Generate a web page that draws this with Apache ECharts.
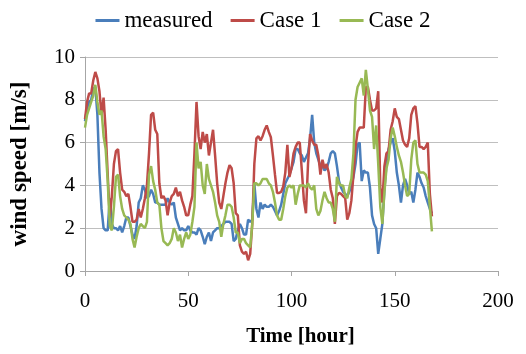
<!DOCTYPE html>
<html><head><meta charset="utf-8">
<script src="https://cdn.jsdelivr.net/npm/echarts@6/dist/echarts.min.js"></script>
<style>html,body{margin:0;padding:0;background:#fff}#c{width:526px;height:354px}</style>
</head><body><div id="c"></div>
<script>
const seriesNames = ['measured', 'Case 1', 'Case 2'];
const xTicks = [0, 50, 100, 150, 200];
const yTicks = [0, 2, 4, 6, 8, 10];
// hourly values, hour 0..168
const measured = [7.0,7.6,7.9,8.0,8.5,8.6,7.3,4.6,2.9,2.0,1.9,1.9,3.4,2.2,2.0,2.0,1.9,2.1,1.8,2.1,
2.5,2.5,2.1,1.7,1.5,2.1,3.2,3.4,4.0,3.8,3.4,3.5,3.8,3.6,3.2,3.2,3.1,3.1,3.1,3.1,
3.4,3.2,3.1,3.2,2.5,2.2,1.9,2.0,1.9,1.9,2.1,1.9,1.8,1.8,1.7,2.0,1.9,1.6,1.25,1.6,
1.8,1.4,1.8,1.9,2.0,2.0,2.1,2.2,2.3,2.3,2.3,2.2,1.4,1.5,1.9,2.2,2.0,1.7,1.7,2.4,
2.3,2.4,4.1,2.9,2.5,3.2,2.9,3.1,3.0,3.0,3.1,3.0,2.8,2.6,2.8,3.1,3.6,4.1,4.3,4.5,
4.8,5.1,5.7,5.7,5.5,5.4,5.1,5.3,5.5,6.2,7.3,6.0,5.5,5.2,4.9,4.9,4.7,4.8,5.1,5.5,
5.6,5.5,4.9,4.2,3.9,3.7,3.6,3.5,3.7,4.0,4.4,5.0,5.9,6.0,4.2,4.7,4.6,4.6,3.9,2.6,
2.2,2.0,0.8,1.5,2.2,3.8,5.0,5.7,6.0,6.2,5.6,4.6,4.0,3.2,4.0,4.3,4.0,3.6,3.7,3.2,
3.8,4.6,4.4,4.1,3.9,3.5,3.2,2.9,2.7];
const case1 = [7.1,7.9,8.3,8.3,8.9,9.3,9.0,8.4,7.3,8.1,6.6,4.5,2.5,3.5,5.0,5.6,5.7,4.6,3.8,3.7,
3.5,3.6,3.0,2.3,2.3,2.4,2.9,2.5,2.9,3.4,4.0,5.5,7.3,7.4,6.6,6.4,4.1,3.4,3.5,3.3,
2.6,3.2,3.5,3.6,3.9,3.5,3.7,3.3,3.0,2.6,2.6,3.1,3.5,5.5,7.9,6.3,5.7,6.5,6.0,6.4,
5.4,6.0,6.6,5.4,4.1,3.2,2.9,3.5,4.1,4.6,4.95,4.8,4.1,2.7,2.6,1.2,0.9,0.8,0.9,0.5,
0.8,2.2,5.0,6.2,6.3,6.1,6.3,6.6,6.8,6.5,6.25,5.4,4.5,3.65,3.65,3.7,3.95,4.6,5.9,4.4,
4.8,5.5,5.8,6.0,6.0,4.7,3.3,2.7,5.0,6.4,6.1,5.9,5.9,5.4,4.5,5.2,4.8,5.0,4.6,3.8,
3.4,2.2,3.5,3.65,3.6,3.5,3.4,2.4,2.7,3.3,4.5,5.8,6.5,6.7,6.7,6.7,8.6,8.6,8.0,7.5,
7.5,7.6,8.4,3.9,3.2,4.9,5.5,5.6,6.6,7.0,7.6,7.2,7.1,6.6,6.1,5.9,5.8,6.2,7.3,7.6,
7.7,6.9,5.8,5.8,5.7,5.8,6.0,3.6,2.55];
const case2 = [6.7,7.3,7.6,7.9,8.2,8.7,7.9,7.3,7.5,6.3,5.7,4.2,2.1,1.9,3.0,4.4,4.5,3.5,2.9,2.6,
2.5,2.4,2.2,1.5,1.1,1.6,2.0,2.2,2.1,2.0,2.3,4.5,4.9,4.2,3.8,3.2,3.1,2.0,1.4,1.3,
1.2,1.3,1.5,2.0,1.8,1.4,1.7,1.1,1.5,1.8,1.5,1.7,2.3,3.0,6.0,4.8,5.1,4.0,3.6,5.0,
4.3,4.0,3.7,3.2,2.6,2.3,1.6,2.2,2.6,3.1,3.1,3.0,2.5,1.8,1.8,1.3,1.5,1.5,1.3,1.2,
1.1,2.2,4.1,4.1,4.0,4.1,4.3,4.3,4.3,4.1,4.0,3.7,3.2,2.6,2.4,2.4,2.9,3.5,3.9,4.0,
3.9,4.0,3.1,3.6,4.0,4.0,4.0,3.9,4.1,3.9,3.8,4.0,2.9,2.6,2.8,3.3,3.7,3.4,3.2,3.2,
2.9,2.3,4.4,4.1,4.0,4.0,3.5,3.4,3.9,4.3,5.5,8.0,8.6,8.8,9.0,8.2,9.4,8.5,7.5,7.2,
5.7,6.8,5.0,3.0,2.2,3.7,4.8,5.2,6.2,6.7,6.3,5.8,5.4,5.1,4.6,4.0,3.5,3.6,5.2,6.0,
6.1,5.0,4.6,4.6,4.6,4.5,4.2,3.0,1.85];
const colors = ['#4A7EBB', '#BE4B48', '#98B954'];

const toPairs = arr => arr.map((v, i) => [i, v]);
const font = 'Liberation Serif';
const chart = echarts.init(document.getElementById('c'), null, {renderer: 'canvas'});
chart.setOption({
  animation: false,
  color: colors,
  legend: {
    top: 4, left: 'center',
    itemWidth: 24, itemHeight: 3, itemGap: 18, icon: 'rect',
    textStyle: {fontFamily: font, fontSize: 23, color: '#000'},
    data: seriesNames
  },
  grid: {left: 85, right: 28, top: 57, bottom: 83, containLabel: false},
  xAxis: {
    type: 'value', min: xTicks[0], max: xTicks[xTicks.length - 1], interval: 50,
    name: 'Time [hour]', nameLocation: 'middle', nameGap: 55,
    nameTextStyle: {fontFamily: font, fontSize: 21, fontWeight: 'bold', color: '#000', padding: [0, 0, 0, 18]},
    axisLine: {lineStyle: {color: '#A6A6A6', width: 1}},
    axisTick: {show: true, length: 5, lineStyle: {color: '#A6A6A6'}},
    axisLabel: {fontFamily: font, fontSize: 21, color: '#000', margin: 20},
    splitLine: {show: false}
  },
  yAxis: {
    type: 'value', min: yTicks[0], max: yTicks[yTicks.length - 1], interval: 2,
    name: 'wind speed [m/s]', nameLocation: 'middle', nameGap: 53,
    nameTextStyle: {fontFamily: font, fontSize: 23, fontWeight: 'bold', color: '#000'},
    axisLine: {show: true, lineStyle: {color: '#A6A6A6', width: 1}},
    axisTick: {show: true, length: 5, lineStyle: {color: '#A6A6A6'}},
    axisLabel: {fontFamily: font, fontSize: 21, color: '#000', margin: 10},
    splitLine: {show: true, lineStyle: {color: '#BFBFBF', width: 1}}
  },
  series: [
    {name: seriesNames[0], type: 'line', data: toPairs(measured), showSymbol: false, symbol: 'none', lineStyle: {width: 2.5}, z: 2},
    {name: seriesNames[1], type: 'line', data: toPairs(case1), showSymbol: false, symbol: 'none', lineStyle: {width: 2.5}, z: 3},
    {name: seriesNames[2], type: 'line', data: toPairs(case2), showSymbol: false, symbol: 'none', lineStyle: {width: 2.5}, z: 4}
  ]
});
</script></body></html>
